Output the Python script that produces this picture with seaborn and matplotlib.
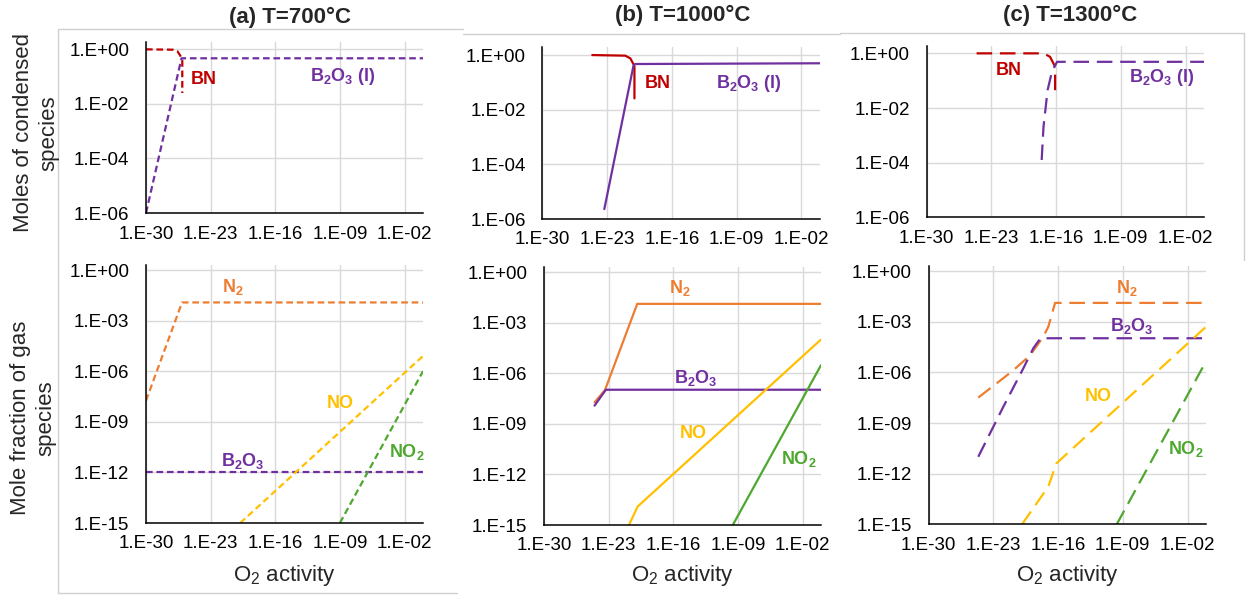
import numpy as np
import matplotlib
matplotlib.use("Agg")
import matplotlib.pyplot as plt
import seaborn as sns
import pandas as pd
from matplotlib.ticker import FixedLocator, FuncFormatter, NullLocator
from matplotlib.lines import Line2D

sns.set_style("white")
plt.rcParams['font.family'] = ['Liberation Sans', 'DejaVu Sans']
plt.rcParams['mathtext.default'] = 'regular'

# ---------------- data (O2 activity vs amount) ----------------
# (a) T = 700 C -- condensed species (moles)
a_bn_x = [1e-30, 8e-28, 2.5e-27, 5e-27, 8.5e-27, 8.5e-27]
a_bn_y = [1.0, 0.97, 0.85, 0.6, 0.4, 0.025]
a_b2o3l_x = [1e-30, 7e-27, 1.0]
a_b2o3l_y = [1e-6, 0.47, 0.47]
# (a) gas species (mole fraction)
a_n2_x = [1e-30, 8e-27, 1.0]
a_n2_y = [1.8e-8, 1.2e-2, 1.2e-2]
a_b2o3g_x = [1e-30, 1.0]
a_b2o3g_y = [1e-12, 1e-12]
a_no_x = [1.6e-20, 1.0]
a_no_y = [1e-15, 8e-6]
a_no2_x = [1e-9, 1.0]
a_no2_y = [1e-15, 1e-6]

# (b) T = 1000 C
b_bn_x = [2.5e-25, 9e-22, 3.2e-21, 6.3e-21, 9e-21, 9e-21]
b_bn_y = [1.0, 0.95, 0.76, 0.5, 0.38, 0.026]
b_b2o3l_x = [5e-24, 7e-21, 1.1e-20, 1.0]
b_b2o3l_y = [2.3e-6, 0.4, 0.47, 0.5]
b_n2_x = [3e-25, 4e-24, 1.25e-20, 1.0]
b_n2_y = [1.9e-8, 1e-7, 1.3e-2, 1.3e-2]
b_b2o3g_x = [3e-25, 5e-24, 1.0]
b_b2o3g_y = [1.2e-8, 1.05e-7, 1.05e-7]
b_no_x = [1.6e-21, 1.4e-20, 1.0]
b_no_y = [1e-15, 1.25e-14, 1e-4]
b_no2_x = [2.8e-10, 1.0]
b_no2_y = [1e-15, 3e-6]

# (c) T = 1300 C
c_bn_x = [2.5e-25, 4.3e-18, 2.2e-17, 5.1e-17, 7.8e-17, 7.8e-17]
c_bn_y = [1.0, 1.0, 0.75, 0.43, 0.32, 0.025]
c_b2o3l_x = [2.75e-18, 4.3e-18, 1.2e-17, 3.5e-17, 1.26e-16, 1.0]
c_b2o3l_y = [1.25e-4, 2e-3, 0.045, 0.21, 0.49, 0.49]
c_n2_x = [2.3e-25, 9.5e-22, 9e-20, 2.5e-18, 8.7e-18, 4.7e-17, 1.0]
c_n2_y = [3.2e-8, 1.1e-6, 1e-5, 1.3e-4, 5e-4, 1.3e-2, 1.3e-2]
c_b2o3g_x = [2.3e-25, 1.9e-24, 1.2e-22, 1.7e-20, 2.1e-19, 1.25e-18, 1.0]
c_b2o3g_y = [1e-11, 1e-10, 9.3e-9, 1.7e-6, 2.7e-5, 1.05e-4, 1.05e-4]
c_no_x = [1.25e-20, 8.7e-18, 6.3e-17, 1.0]
c_no_y = [1e-15, 1.7e-13, 4e-12, 5e-4]
c_no2_x = [2.2e-10, 1.0]
c_no2_y = [1e-15, 4.5e-6]

titles = ["(a) T=700°C", "(b) T=1000°C", "(c) T=1300°C"]
x_ticks = [1e-30, 1e-23, 1e-16, 1e-9, 1e-2]
y_ticks_top = [1e0, 1e-2, 1e-4, 1e-6]
y_ticks_bot = [1e0, 1e-3, 1e-6, 1e-9, 1e-12, 1e-15]

C_BN = "#C00000"
C_PUR = "#7030A0"
C_N2 = "#ED7D31"
C_NO = "#FFC000"
C_NO2 = "#4EA72E"

W, H = 1250, 596
fig = plt.figure(figsize=(W / 100, H / 100), dpi=100)


def add_ax(l, r, t, b):
    return fig.add_axes([l / W, 1 - b / H, (r - l) / W, (b - t) / H])


def fmt(v, pos):
    e = int(round(np.log10(v)))
    return "1.E%+03d" % e


def style_ax(ax, yticks, ylim):
    ax.set_xscale('log')
    ax.set_yscale('log')
    ax.set_xlim(1e-30, 1.0)
    ax.set_ylim(*ylim)
    ax.xaxis.set_major_locator(FixedLocator(x_ticks))
    ax.yaxis.set_major_locator(FixedLocator(yticks))
    ax.xaxis.set_minor_locator(NullLocator())
    ax.yaxis.set_minor_locator(NullLocator())
    ax.xaxis.set_major_formatter(FuncFormatter(fmt))
    ax.yaxis.set_major_formatter(FuncFormatter(fmt))
    ax.grid(True, color="#d9d9d9", lw=1.0)
    ax.set_axisbelow(True)
    for s in ['top', 'right']:
        ax.spines[s].set_visible(False)
    for s in ['left', 'bottom']:
        ax.spines[s].set_color('black')
        ax.spines[s].set_linewidth(1.1)
    ax.tick_params(axis='both', which='major', direction='in', length=3.8,
                   width=1.1, color='black', labelsize=13.5, labelcolor='black')
    ax.tick_params(axis='x', pad=9)
    ax.tick_params(axis='y', pad=12)


def line(ax, x, y, color, ls):
    df = pd.DataFrame({"x": x, "y": y})
    sns.lineplot(data=df, x="x", y="y", ax=ax, color=color, lw=1.6,
                 linestyle=ls, sort=False, estimator=None)
    ax.set_xlabel("")
    ax.set_ylabel("")


def label(ax, xd, yd, s, color):
    ax.text(10 ** xd, 10 ** yd, s, color=color, fontsize=13, fontweight='bold',
            ha='center', va='center')


ls_a = (0, (3, 1.7))
ls_b = '-'
ls_c = (0, (7, 3.5))

# axes positions (pixels)
pos_top = [(146, 423, 41.7, 213), (542.3, 820, 47.4, 219), (926.7, 1204, 45.7, 217.3)]
pos_bot = [(146, 423, 265, 523), (544, 821, 267, 525), (928.7, 1206, 266, 524.3)]

panels = [
    dict(ls=ls_a,
         top=[(a_bn_x, a_bn_y, C_BN), (a_b2o3l_x, a_b2o3l_y, C_PUR)],
         bot=[(a_n2_x, a_n2_y, C_N2), (a_b2o3g_x, a_b2o3g_y, C_PUR),
              (a_no_x, a_no_y, C_NO), (a_no2_x, a_no2_y, C_NO2)],
         top_lbl=[(-23.7, -1.12, "BN", C_BN), (-8.7, -1.01, r"B$_2$O$_3$ (l)", C_PUR)],
         bot_lbl=[(-20.6, -1.0, r"N$_2$", C_N2), (-9.0, -7.9, "NO", C_NO),
                  (-19.5, -11.3, r"B$_2$O$_3$", C_PUR), (-1.7, -10.8, r"NO$_2$", C_NO2)]),
    dict(ls=ls_b,
         top=[(b_bn_x, b_bn_y, C_BN), (b_b2o3l_x, b_b2o3l_y, C_PUR)],
         bot=[(b_n2_x, b_n2_y, C_N2), (b_b2o3g_x, b_b2o3g_y, C_PUR),
              (b_no_x, b_no_y, C_NO), (b_no2_x, b_no2_y, C_NO2)],
         top_lbl=[(-17.5, -1.03, "BN", C_BN), (-7.7, -1.03, r"B$_2$O$_3$ (l)", C_PUR)],
         bot_lbl=[(-15.3, -0.93, r"N$_2$", C_N2), (-13.6, -6.27, r"B$_2$O$_3$", C_PUR),
                  (-13.8, -9.6, "NO", C_NO), (-2.4, -11.08, r"NO$_2$", C_NO2)]),
    dict(ls=ls_c,
         top=[(c_bn_x, c_bn_y, C_BN), (c_b2o3l_x, c_b2o3l_y, C_PUR)],
         bot=[(c_n2_x, c_n2_y, C_N2), (c_b2o3g_x, c_b2o3g_y, C_PUR),
              (c_no_x, c_no_y, C_NO), (c_no2_x, c_no2_y, C_NO2)],
         top_lbl=[(-21.1, -0.61, "BN", C_BN), (-4.6, -0.9, r"B$_2$O$_3$ (l)", C_PUR)],
         bot_lbl=[(-8.6, -1.0, r"N$_2$", C_N2), (-8.0, -3.25, r"B$_2$O$_3$", C_PUR),
                  (-11.7, -7.44, "NO", C_NO), (-2.15, -10.53, r"NO$_2$", C_NO2)]),
]

# light frames of the original chart boxes
frame_col = "#d0d0d0"
def fline(xs, ys):
    fig.add_artist(Line2D([x / W for x in xs], [1 - y / H for y in ys],
                          color=frame_col, lw=1.0, transform=fig.transFigure))

fline([58, 58], [29, 593])
fline([58, 463], [29, 29])
fline([58, 457], [593, 593])
fline([463, 840], [34, 34])
fline([840, 1244], [33, 33])
fline([1244, 1244], [33, 260])

for i, p in enumerate(panels):
    axt = add_ax(*pos_top[i])
    style_ax(axt, y_ticks_top, (1e-6, 10 ** 0.28))
    for x, y, c in p['top']:
        line(axt, x, y, c, p['ls'])
    for xd, yd, s, c in p['top_lbl']:
        label(axt, xd, yd, s, c)

    axb = add_ax(*pos_bot[i])
    style_ax(axb, y_ticks_bot, (1e-15, 10 ** 0.3))
    for x, y, c in p['bot']:
        line(axb, x, y, c, p['ls'])
    for xd, yd, s, c in p['bot_lbl']:
        label(axb, xd, yd, s, c)

# panel titles
for (xc, yc), t in zip([(290, 17), (683, 15), (1070, 15)], titles):
    fig.text(xc / W, 1 - yc / H, t, fontsize=16, fontweight='bold',
             ha='center', va='center')

# x axis titles
for xc in [284.5, 682.5, 1067]:
    fig.text(xc / W, 1 - 575 / H, r"O$_2$ activity", fontsize=16,
             ha='center', va='center')

# y axis titles
fig.text(36 / W, 1 - 133 / H, "Moles of condensed\nspecies", rotation=90,
         fontsize=16, ha='center', va='center', multialignment='center',
         linespacing=1.3)
fig.text(33 / W, 1 - 418 / H, "Mole fraction of gas\nspecies", rotation=90,
         fontsize=16, ha='center', va='center', multialignment='center',
         linespacing=1.3)

fig.savefig("out.png", dpi=100)
